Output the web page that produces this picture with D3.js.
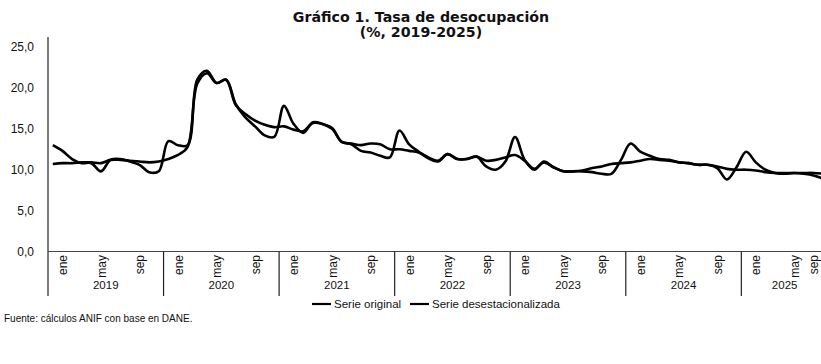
<!DOCTYPE html>
<html>
<head>
<meta charset="utf-8">
<script src="https://cdn.jsdelivr.net/npm/d3@7"></script>
<style>
  html, body { margin: 0; padding: 0; background: #fff; }
  svg { display: block; }
  text { fill: #111; }
</style>
</head>
<body>
<svg id="chart" width="821" height="364"></svg>
<script>
// Tasa de desocupación mensual, enero 2019 – septiembre 2025 (%)
const years = ["2019", "2020", "2021", "2022", "2023", "2024", "2025"];
const monthsPerYear = [12, 12, 12, 12, 12, 12, 9];
const monthTicks = [{ m: 0, label: "ene" }, { m: 4, label: "may" }, { m: 8, label: "sep" }];
const yTicks = [0, 5, 10, 15, 20, 25];

const serieOriginal = [
  13.0, 12.3, 11.3, 10.8, 10.8, 9.8, 11.2, 11.3, 11.0, 10.6, 9.7, 9.8,
  13.5, 13.0, 13.0, 21.0, 22.1, 20.6, 21.0, 18.0, 16.4, 15.3, 14.2, 14.0,
  17.8, 15.6, 14.5, 15.8, 15.6, 15.0, 13.4, 13.1, 12.3, 12.1, 11.7, 11.5,
  14.8, 13.1, 12.2, 11.4, 11.0, 11.9, 11.3, 11.3, 11.6, 10.4, 10.0, 11.0,
  14.0, 11.2, 10.0, 11.0, 10.3, 9.8, 9.8, 9.8, 9.7, 9.5, 9.5, 11.2,
  13.2, 12.2, 11.7, 11.3, 11.2, 10.9, 10.8, 10.6, 10.6, 10.2, 8.8, 10.3,
  12.2, 10.9, 10.0, 9.6, 9.5, 9.6, 9.5, 9.3, 8.9
];

const serieDesest = [
  10.7, 10.8, 10.8, 10.9, 10.9, 10.8, 11.2, 11.2, 11.1, 11.0, 10.9, 11.0,
  11.3, 11.8, 12.8, 20.5, 21.8, 20.6, 21.0, 17.9, 16.8, 16.0, 15.5, 15.2,
  15.3, 14.9, 14.7, 15.7, 15.6, 15.1, 13.4, 13.2, 13.0, 13.2, 13.1, 12.5,
  12.5, 12.3, 12.1, 11.5, 11.1, 11.9, 11.3, 11.3, 11.6, 11.1, 11.2, 11.5,
  11.8, 11.1, 10.1, 10.9, 10.3, 9.8, 9.8, 9.9, 10.2, 10.4, 10.7, 10.8,
  10.9, 11.1, 11.3, 11.2, 11.1, 10.9, 10.8, 10.6, 10.6, 10.4, 10.1, 10.0,
  10.0, 9.9, 9.7, 9.6, 9.6, 9.6, 9.6, 9.6, 9.5
];

const svg = d3.select("#chart");
const W = 821, H = 364;
svg.append("rect").attr("width", W).attr("height", H).attr("fill", "#fff");

const nMonths = d3.sum(monthsPerYear);
const plotLeft = 48, plotRight = 828, plotTop = 37, baseY = 251.5, catBottom = 296;

const x = d3.scaleLinear().domain([0, nMonths]).range([plotLeft, plotRight]);
const y = d3.scaleLinear().domain([0, 25]).range([baseY, 47]);

const sans = "'Liberation Sans', Arial, sans-serif";

// Título
const title = svg.append("g").attr("font-family", "'DejaVu Sans', sans-serif")
  .attr("font-weight", "bold").attr("font-size", 14.2).attr("text-anchor", "middle");
title.append("text").attr("x", 421).attr("y", 21.5).text("Gráfico 1. Tasa de desocupación");
title.append("text").attr("x", 421).attr("y", 37).text("(%, 2019-2025)");

// Eje vertical
svg.append("line").attr("x1", plotLeft).attr("x2", plotLeft).attr("y1", plotTop).attr("y2", catBottom)
  .attr("stroke", "#222").attr("stroke-width", 1.2);

svg.append("g").attr("font-family", sans).attr("font-size", 12).attr("text-anchor", "end")
  .selectAll("text").data(yTicks).join("text")
  .attr("x", 34).attr("y", d => y(d)).attr("dy", "0.35em")
  .text(d => d3.format(".1f")(d).replace(".", ","));

// Eje horizontal y separadores de año
svg.append("line").attr("x1", plotLeft).attr("x2", W).attr("y1", baseY).attr("y2", baseY)
  .attr("stroke", "#444").attr("stroke-width", 1);

const yearStart = d3.cumsum([0, ...monthsPerYear]);
svg.append("g").selectAll("line").data(yearStart.slice(1, years.length)).join("line")
  .attr("x1", d => x(d)).attr("x2", d => x(d)).attr("y1", baseY).attr("y2", catBottom)
  .attr("stroke", "#222").attr("stroke-width", 1.2);

// Etiquetas de mes (rotadas), la última se mantiene dentro del lienzo
const monthLabels = [];
years.forEach((yr, k) => {
  monthTicks.forEach(t => {
    if (t.m < monthsPerYear[k]) monthLabels.push({ i: yearStart[k] + t.m, label: t.label });
  });
});
svg.append("g").attr("font-family", sans).attr("font-size", 12).attr("text-anchor", "end")
  .selectAll("text").data(monthLabels).join("text")
  .attr("transform", d => `translate(${Math.min(x(d.i + 0.5) + 10, W - 7)},255) rotate(-90)`)
  .attr("dy", "0.35em")
  .text(d => d.label);

// Etiquetas de año
svg.append("g").attr("font-family", sans).attr("font-size", 11.5).attr("text-anchor", "middle")
  .selectAll("text").data(years).join("text")
  .attr("x", (d, k) => x(yearStart[k] + monthsPerYear[k] / 2))
  .attr("y", 285).attr("dy", "0.35em")
  .text(d => d);

// Series
const line = d3.line()
  .x((d, i) => x(i + 0.5))
  .y(d => y(d))
  .curve(d3.curveCatmullRom.alpha(0.5));

[serieDesest, serieOriginal].forEach(s => {
  svg.append("path").datum(s).attr("d", line)
    .attr("fill", "none").attr("stroke", "#000").attr("stroke-width", 2.6)
    .attr("stroke-linejoin", "round");
});

// Leyenda
const legendItems = [
  { label: "Serie original", x: 312 },
  { label: "Serie desestacionalizada", x: 410 }
];
const lg = svg.append("g").attr("font-family", sans).attr("font-size", 11.5);
legendItems.forEach(it => {
  lg.append("line").attr("x1", it.x).attr("x2", it.x + 19).attr("y1", 304).attr("y2", 304)
    .attr("stroke", "#000").attr("stroke-width", 2.2);
  lg.append("text").attr("x", it.x + 22).attr("y", 304).attr("dy", "0.35em").text(it.label);
});

// Fuente
svg.append("text").attr("x", 4).attr("y", 318).attr("dy", "0.35em")
  .attr("font-family", sans).attr("font-size", 10)
  .text("Fuente: cálculos ANIF con base en DANE.");
</script>
</body>
</html>
